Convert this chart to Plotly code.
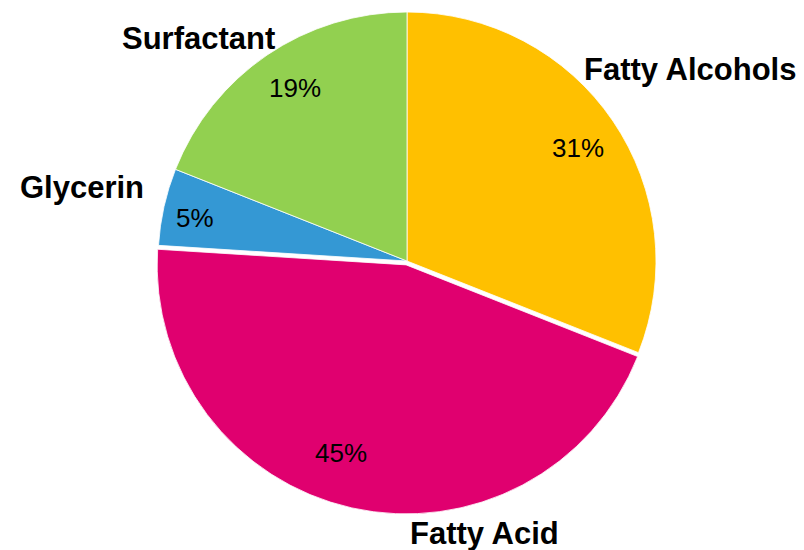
import plotly.graph_objects as go

# ---- data ----
categories = ["Fatty Alcohols", "Fatty Acid", "Glycerin", "Surfactant"]
values = [31, 45, 5, 19]
colors = ["#FFC000", "#E0006F", "#3498D4", "#92D050"]
pulls = [0, 0.016, 0, 0]

# ---- layout constants (pixel positions of the text labels) ----
W, H = 804, 550
name_pos = [(690, 70), (485, 533), (82, 187), (198, 38)]
pct_pos = [(578, 148), (341, 453), (195, 218), (295, 88)]

cx, cy, r = 407, 261, 249
half = r * (1 + max(pulls))

fig = go.Figure(go.Pie(
    labels=categories,
    values=values,
    sort=False,
    direction="clockwise",
    rotation=0,
    pull=pulls,
    marker=dict(colors=colors, line=dict(color="white", width=0.8)),
    textinfo="none",
    hoverinfo="label+percent",
    showlegend=False,
    domain=dict(x=[(cx - half) / W, (cx + half) / W],
                y=[(H - cy - half) / H, (H - cy + half) / H]),
))

total = sum(values)
annotations = []
for name, v, (nx, ny), (px, py) in zip(categories, values, name_pos, pct_pos):
    annotations.append(dict(
        x=nx / W, y=1 - ny / H, xref="paper", yref="paper",
        text=f"<b>{name}</b>", showarrow=False,
        xanchor="center", yanchor="middle",
        font=dict(family="Liberation Sans, Arial, sans-serif", size=31, color="black"),
    ))
    annotations.append(dict(
        x=px / W, y=1 - py / H, xref="paper", yref="paper",
        text=f"{round(100 * v / total)}%", showarrow=False,
        xanchor="center", yanchor="middle",
        font=dict(family="Liberation Sans, Arial, sans-serif", size=26, color="black"),
    ))

fig.update_layout(
    width=W, height=H,
    margin=dict(l=0, r=0, t=0, b=0),
    paper_bgcolor="white",
    plot_bgcolor="white",
    annotations=annotations,
)

fig.write_html(
    "out.html",
    config={"displayModeBar": False},
    post_script="document.body.style.margin='0';document.body.style.padding='0';",
)
